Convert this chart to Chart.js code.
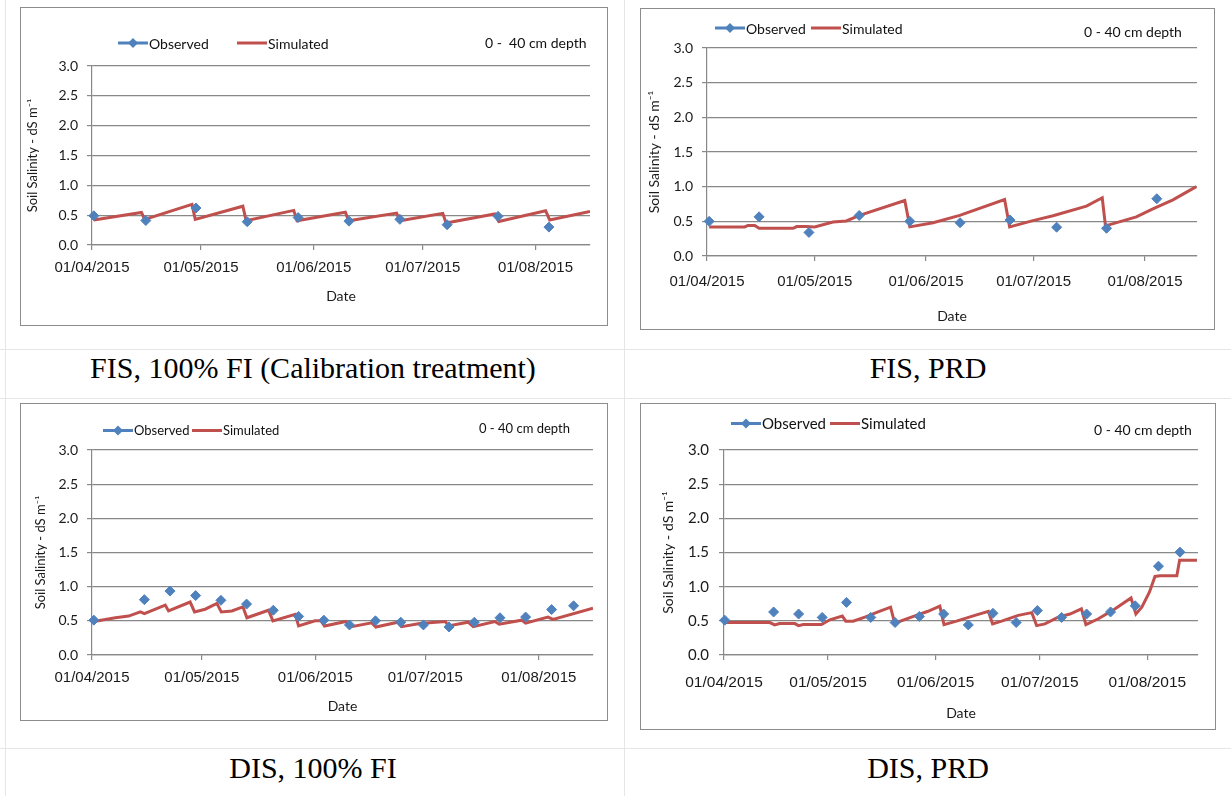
<!DOCTYPE html>
<html>
<head>
<meta charset="utf-8">
<script src="https://cdn.jsdelivr.net/npm/chart.js@4.4.0/dist/chart.umd.min.js"></script>
<style>
body { margin: 0; background: #fff; width: 1231px; height: 796px; position: relative; overflow: hidden; font-family: Lato, sans-serif; }
canvas { position: absolute; }
.box { position: absolute; border: 1px solid #8c8c8c; box-sizing: border-box; pointer-events: none; }
.rule { position: absolute; background: #e6e6e6; }
.cap { position: absolute; font-family: "Liberation Serif", "Times New Roman", serif; font-size: 30px; color: #000; text-align: center; line-height: 34px; white-space: nowrap; }
.leg { position: absolute; display: flex; align-items: center; white-space: nowrap; color: #111; transform: translateY(-50%); }
.depth { position: absolute; white-space: nowrap; color: #111; transform: translateY(-50%); }
</style>
</head>
<body>
<script>
// x axis: days since 01/04/2015, labelled at the first of each month
var monthDays = [0, 30, 61, 91, 122];
var monthLabels = ['01/04/2015', '01/05/2015', '01/06/2015', '01/07/2015', '01/08/2015'];
var captions = ['FIS, 100% FI (Calibration treatment)', 'FIS, PRD', 'DIS, 100% FI', 'DIS, PRD'];

// FIS, 100% FI
var fisFiObsDay = [0.5, 14.8, 28.6, 42.7, 56.7, 70.7, 84.7, 97.7, 111.7, 125.7];
var fisFiObsVal = [0.49, 0.41, 0.62, 0.39, 0.46, 0.40, 0.43, 0.34, 0.48, 0.30];
var fisFiSimDay = [0.5, 13.6, 14.5, 27.5, 28.4, 41.5, 42.4, 55.5, 56.4, 69.7, 70.6, 83.8, 84.7, 96.5, 97.4, 110.8, 111.9, 124.8, 125.9, 137.0];
var fisFiSimVal = [0.42, 0.545, 0.43, 0.68, 0.43, 0.65, 0.405, 0.58, 0.405, 0.55, 0.405, 0.535, 0.405, 0.53, 0.37, 0.52, 0.395, 0.575, 0.42, 0.56];

// FIS, PRD
var fisPrdObsDay = [0.6, 14.5, 28.4, 42.4, 56.5, 70.5, 84.4, 97.4, 111.3, 125.3];
var fisPrdObsVal = [0.50, 0.565, 0.34, 0.585, 0.50, 0.48, 0.52, 0.415, 0.40, 0.826];
var fisPrdSimDay = [0.6, 10.5, 11.4, 13.3, 14.5, 24.0, 25.0, 27.7, 30.0, 35.1, 38.8, 42.5, 55.1, 56.5, 63.0, 70.4, 82.9, 84.3, 90.8, 96.4, 105.7, 110.1, 111.0, 119.6, 124.2, 129.8, 136.3];
var fisPrdSimVal = [0.42, 0.42, 0.44, 0.44, 0.40, 0.40, 0.425, 0.425, 0.42, 0.49, 0.505, 0.585, 0.80, 0.42, 0.48, 0.585, 0.815, 0.42, 0.51, 0.58, 0.72, 0.84, 0.435, 0.565, 0.68, 0.81, 1.0];

// DIS, 100% FI
var disFiObsDay = [0.5, 14.3, 21.3, 28.3, 35.2, 42.2, 49.5, 56.4, 63.3, 70.3, 77.4, 84.3, 90.5, 97.5, 104.4, 111.4, 118.4, 125.5, 131.5];
var disFiObsVal = [0.51, 0.81, 0.935, 0.87, 0.80, 0.745, 0.655, 0.565, 0.51, 0.44, 0.50, 0.48, 0.44, 0.41, 0.48, 0.545, 0.555, 0.665, 0.72];
var disFiSimDay = [0.5, 6.4, 10.0, 13.2, 14.3, 20.0, 20.9, 26.8, 28.0, 30.9, 34.1, 35.3, 38.2, 41.2, 42.3, 48.2, 49.4, 55.5, 56.4, 60.9, 62.5, 63.5, 69.3, 70.5, 76.4, 77.5, 83.5, 84.5, 89.5, 96.5, 97.3, 102.7, 104.1, 110.0, 111.2, 117.3, 118.4, 124.5, 125.9, 136.8];
var disFiSimVal = [0.49, 0.545, 0.57, 0.63, 0.605, 0.73, 0.645, 0.775, 0.63, 0.67, 0.755, 0.63, 0.645, 0.705, 0.545, 0.655, 0.50, 0.595, 0.425, 0.50, 0.50, 0.425, 0.49, 0.41, 0.47, 0.41, 0.48, 0.415, 0.46, 0.49, 0.425, 0.48, 0.415, 0.49, 0.45, 0.51, 0.465, 0.555, 0.52, 0.685];

// DIS, PRD
var disPrdObsDay = [0.2, 14.3, 21.5, 28.3, 35.3, 42.3, 49.3, 56.3, 63.3, 70.4, 77.5, 84.2, 90.3, 97.3, 104.5, 111.4, 118.5, 125.2, 131.4];
var disPrdObsVal = [0.51, 0.63, 0.60, 0.55, 0.77, 0.55, 0.475, 0.565, 0.60, 0.44, 0.61, 0.475, 0.65, 0.55, 0.60, 0.63, 0.72, 1.30, 1.505];
var disPrdSimDay = [0.2, 13.2, 14.6, 16.0, 20.4, 21.5, 22.8, 28.1, 30.5, 34.1, 35.1, 37.2, 40.6, 44.4, 48.0, 49.2, 54.0, 58.8, 62.2, 63.4, 67.0, 72.3, 76.2, 77.4, 80.0, 84.8, 88.7, 90.1, 92.5, 96.3, 99.7, 103.0, 104.3, 107.9, 112.2, 117.3, 118.7, 120.4, 122.6, 124.2, 125.7, 130.5, 131.3, 136.3];
var disPrdSimVal = [0.475, 0.475, 0.44, 0.46, 0.46, 0.43, 0.445, 0.445, 0.515, 0.57, 0.495, 0.495, 0.555, 0.63, 0.70, 0.465, 0.555, 0.64, 0.715, 0.445, 0.495, 0.58, 0.64, 0.455, 0.495, 0.58, 0.62, 0.43, 0.455, 0.555, 0.60, 0.675, 0.445, 0.53, 0.66, 0.835, 0.60, 0.70, 0.92, 1.15, 1.16, 1.16, 1.385, 1.385];

var BLUE = '#4F81BD', RED = '#C0504D', AXIS = '#888888', TXT = '#1a1a1a';

// layout of the four panels (page pixels)
var panels = [
    { box: [20, 7, 588, 319], plotLeft: 72, plotTop: 59, plotRight: 18, plotBottom: 238, xMax: 137,
      xLab: 23, dateOff: 51, yTitleX: 13, yTitleSize: 13, xTickSize: 15, yTickSize: 14, yPad: 9,
      legY: 43, legX: [118, 237], legSize: 14, depthX: 485, depthY: 42, depthSize: 14, depthText: '0 -\u00a0 40 cm depth',
      capX: 5, capW: 616, capY: 351, obsDay: fisFiObsDay, obsVal: fisFiObsVal, simDay: fisFiSimDay, simVal: fisFiSimVal },
    { box: [640, 8, 575, 322], plotLeft: 67, plotTop: 40, plotRight: 18, plotBottom: 248, xMax: 136.5,
      xLab: 26, dateOff: 60, yTitleX: 14, yTitleSize: 14, xTickSize: 15, yTickSize: 14, yPad: 9,
      legY: 28, legX: [715, 811], legSize: 14, depthX: 1084, depthY: 31, depthSize: 14, depthText: '0 - 40 cm depth',
      capX: 625, capW: 606, capY: 351, obsDay: fisPrdObsDay, obsVal: fisPrdObsVal, simDay: fisPrdSimDay, simVal: fisPrdSimVal },
    { box: [20, 403, 588, 318], plotLeft: 72, plotTop: 47, plotRight: 15, plotBottom: 252, xMax: 136.8,
      xLab: 23, dateOff: 51, yTitleX: 21, yTitleSize: 13, xTickSize: 15, yTickSize: 14, yPad: 9,
      legY: 430, legX: [103, 192], legSize: 13, depthX: 479, depthY: 428, depthSize: 13, depthText: '0 - 40 cm depth',
      capX: 5, capW: 616, capY: 751, obsDay: disFiObsDay, obsVal: disFiObsVal, simDay: disFiSimDay, simVal: disFiSimVal },
    { box: [640, 403, 576, 327], plotLeft: 84, plotTop: 47, plotRight: 18, plotBottom: 252, xMax: 136.6,
      xLab: 28, dateOff: 58, yTitleX: 28, yTitleSize: 14, xTickSize: 15.5, yTickSize: 15, yPad: 10,
      legY: 423, legX: [731, 830], legSize: 15, depthX: 1094, depthY: 429, depthSize: 14, depthText: '0 - 40 cm depth',
      capX: 625, capW: 606, capY: 751, obsDay: disPrdObsDay, obsVal: disPrdObsVal, simDay: disPrdSimDay, simVal: disPrdSimVal }
];

function addEl(tag, cls, css, text) {
    var el = document.createElement(tag);
    if (cls) el.className = cls;
    for (var k in css) el.style[k] = css[k];
    if (text) el.textContent = text;
    document.body.appendChild(el);
    return el;
}

// faint table rules
addEl('div', 'rule', { left: '624px', top: '0px', width: '1px', height: '796px' });
addEl('div', 'rule', { left: '5px', top: '0px', width: '1px', height: '796px' });
[349, 398, 748].forEach(function (y) {
    addEl('div', 'rule', { left: '0px', top: y + 'px', width: '1231px', height: '1px' });
});

function legendSymbol(color, diamond) {
    var ns = 'http://www.w3.org/2000/svg';
    var svg = document.createElementNS(ns, 'svg');
    svg.setAttribute('width', '30');
    svg.setAttribute('height', '11');
    var line = document.createElementNS(ns, 'line');
    line.setAttribute('x1', '0'); line.setAttribute('x2', '30');
    line.setAttribute('y1', '5.5'); line.setAttribute('y2', '5.5');
    line.setAttribute('stroke', color); line.setAttribute('stroke-width', '3');
    svg.appendChild(line);
    if (diamond) {
        var d = document.createElementNS(ns, 'polygon');
        d.setAttribute('points', '15,0.5 20,5.5 15,10.5 10,5.5');
        d.setAttribute('fill', color);
        svg.appendChild(d);
    }
    return svg;
}

panels.forEach(function (p, idx) {
    var bx = p.box[0], by = p.box[1], bw = p.box[2], bh = p.box[3];
    var canvas = document.createElement('canvas');
    canvas.width = bw; canvas.height = bh;
    canvas.style.left = bx + 'px'; canvas.style.top = by + 'px';
    canvas.style.width = bw + 'px'; canvas.style.height = bh + 'px';
    document.body.appendChild(canvas);
    addEl('div', 'box', { left: bx + 'px', top: by + 'px', width: bw + 'px', height: bh + 'px' });

    var tickLh = p.xTickSize * 1.2;
    var dateLh = 14 * 1.2;
    var xHeight = p.dateOff + dateLh / 2;
    var yTitleLh = p.yTitleSize * 1.2;

    new Chart(canvas.getContext('2d'), {
        type: 'line',
        data: {
            datasets: [{
                label: 'Observed',
                data: p.obsDay.map(function (d, i) { return { x: d, y: p.obsVal[i] }; }),
                showLine: false,
                pointStyle: 'rectRot',
                pointRadius: 5,
                pointBorderWidth: 1,
                backgroundColor: BLUE,
                borderColor: BLUE,
                clip: false,
                order: 0
            }, {
                label: 'Simulated',
                data: p.simDay.map(function (d, i) { return { x: d, y: p.simVal[i] }; }),
                borderColor: RED,
                borderWidth: 3,
                pointRadius: 0,
                tension: 0,
                fill: false,
                order: 1
            }]
        },
        options: {
            responsive: false,
            animation: false,
            devicePixelRatio: 1,
            layout: { padding: { left: 0, top: p.plotTop, right: p.plotRight, bottom: bh - p.plotBottom - xHeight } },
            plugins: { legend: { display: false }, tooltip: { enabled: false } },
            scales: {
                x: {
                    type: 'linear', min: 0, max: p.xMax,
                    afterBuildTicks: function (s) { s.ticks = monthDays.map(function (v) { return { value: v }; }); },
                    afterFit: function (s) { s.height = xHeight; },
                    ticks: {
                        autoSkip: false, maxRotation: 0, color: TXT,
                        padding: p.xLab - 5 - tickLh / 2,
                        font: { family: 'Liberation Sans', size: p.xTickSize },
                        callback: function (v, i) { return monthLabels[i]; }
                    },
                    grid: { drawOnChartArea: false, drawTicks: true, tickLength: 5, color: AXIS, lineWidth: 1.2 },
                    border: { color: AXIS, width: 1.2 },
                    title: { display: true, text: 'Date', color: TXT, padding: 0, font: { family: 'Lato', size: 14 } }
                },
                y: {
                    min: 0, max: 3,
                    afterFit: function (s) { s.width = p.plotLeft; },
                    ticks: {
                        stepSize: 0.5, color: TXT, padding: p.yPad,
                        font: { family: 'Lato', size: p.yTickSize },
                        callback: function (v) { return Number(v).toFixed(1); }
                    },
                    grid: { color: AXIS, tickLength: 5, lineWidth: 1.2 },
                    border: { color: AXIS, width: 1.2 },
                    title: {
                        display: true, text: 'Soil Salinity - dS m\u207B\u00B9', color: TXT,
                        padding: { top: p.yTitleX - yTitleLh / 2, bottom: 0 },
                        font: { family: 'Lato', size: p.yTitleSize }
                    }
                }
            }
        }
    });

    // legend, as Excel draws it
    [['Observed', BLUE, true], ['Simulated', RED, false]].forEach(function (item, k) {
        var leg = addEl('div', 'leg', { left: p.legX[k] + 'px', top: p.legY + 'px', fontSize: p.legSize + 'px' });
        leg.appendChild(legendSymbol(item[1], item[2]));
        var span = document.createElement('span');
        span.textContent = item[0];
        span.style.marginLeft = '1px';
        leg.appendChild(span);
    });
    addEl('div', 'depth', { left: p.depthX + 'px', top: p.depthY + 'px', fontSize: p.depthSize + 'px' }, p.depthText);
    addEl('div', 'cap', { left: p.capX + 'px', top: p.capY + 'px', width: p.capW + 'px' }, captions[idx]);
});
</script>
</body>
</html>
